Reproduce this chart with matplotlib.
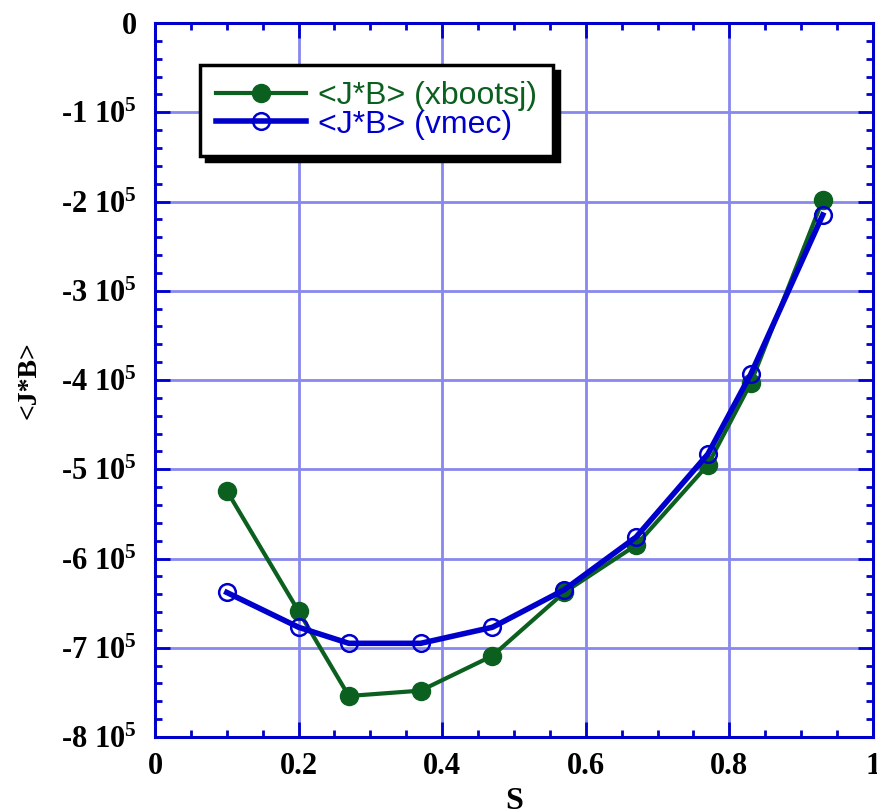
import numpy as np
import matplotlib
matplotlib.use("Agg")
import matplotlib.pyplot as plt
from matplotlib.ticker import AutoMinorLocator, FixedLocator

# data
s = [0.1, 0.2, 0.27, 0.37, 0.47, 0.57, 0.67, 0.77, 0.83, 0.93]
jb_xbootsj = [-5.24e5, -6.59e5, -7.54e5, -7.48e5, -7.09e5, -6.38e5, -5.85e5, -4.95e5, -4.03e5, -1.98e5]
jb_vmec = [-6.38e5, -6.77e5, -6.95e5, -6.95e5, -6.77e5, -6.35e5, -5.76e5, -4.83e5, -3.93e5, -2.15e5]
ytick_vals = [0, -1e5, -2e5, -3e5, -4e5, -5e5, -6e5, -7e5, -8e5]
ytick_labels = ["0"] + ["-%d 10$^{5}$" % k for k in range(1, 9)]
xtick_vals = [0, 0.2, 0.4, 0.6, 0.8, 1.0]
xtick_labels = ["0", "0.2", "0.4", "0.6", "0.8", "1"]

plt.rcParams['mathtext.fontset'] = 'custom'
plt.rcParams['mathtext.rm'] = 'Liberation Serif:bold'
plt.rcParams['mathtext.default'] = 'rm'

green = '#0b6020'
blue = '#0000cc'
gridc = '#8888ee'

fig = plt.figure(figsize=(8.78, 8.11), dpi=100)
ax = fig.add_axes([0.1765, 0.0912, 0.8178, 0.8804])

ax.plot(s, jb_xbootsj, color=green, lw=3, marker='o', ms=13,
        mfc=green, mec=green, label='<J*B> (xbootsj)', zorder=3)
ax.plot(s, jb_vmec, color=blue, lw=4, marker='o', ms=12,
        mfc='none', mec=blue, mew=1.8, label='<J*B> (vmec)', zorder=4)

ax.set_xlim(0, 1)
ax.set_ylim(-8e5, 0)
ax.xaxis.set_major_locator(FixedLocator(xtick_vals))
ax.set_xticklabels(xtick_labels)
ax.yaxis.set_major_locator(FixedLocator(ytick_vals))
ax.set_yticklabels(ytick_labels)
ax.xaxis.set_minor_locator(AutoMinorLocator(4))
ax.yaxis.set_minor_locator(AutoMinorLocator(5))

ax.grid(True, which='major', color=gridc, lw=2, zorder=0)
ax.set_axisbelow(True)
for sp in ax.spines.values():
    sp.set_color(blue)
    sp.set_linewidth(2.2)
ax.tick_params(which='both', direction='in', color=blue, width=2,
               top=True, right=True)
ax.tick_params(which='major', length=11)
ax.tick_params(which='minor', length=5)
ax.tick_params(axis='y', which='major', pad=13)
ax.tick_params(axis='x', which='major', pad=11)
for lab in ax.get_xticklabels() + ax.get_yticklabels():
    lab.set_fontfamily('Liberation Serif')
    lab.set_fontweight('bold')
    lab.set_fontsize(22)

ax.set_xlabel('S', fontfamily='Liberation Serif', fontweight='bold', fontsize=23, labelpad=4)
ax.set_ylabel('<J*B>', fontfamily='Liberation Serif', fontweight='bold', fontsize=20, labelpad=14)

leg = ax.legend(loc='upper left', bbox_to_anchor=(0.063, 0.941), borderaxespad=0,
                prop={'family': 'Liberation Sans', 'size': 23}, labelcolor='linecolor',
                fancybox=False, edgecolor='black', framealpha=1,
                shadow={'color': 'black', 'alpha': 1, 'ox': 4, 'oy': -4},
                handlelength=2.8, handletextpad=0.4, borderpad=0.5, labelspacing=-0.05)
leg.get_frame().set_linewidth(2.5)

fig.savefig('out.png', dpi=100)
plt.close()
